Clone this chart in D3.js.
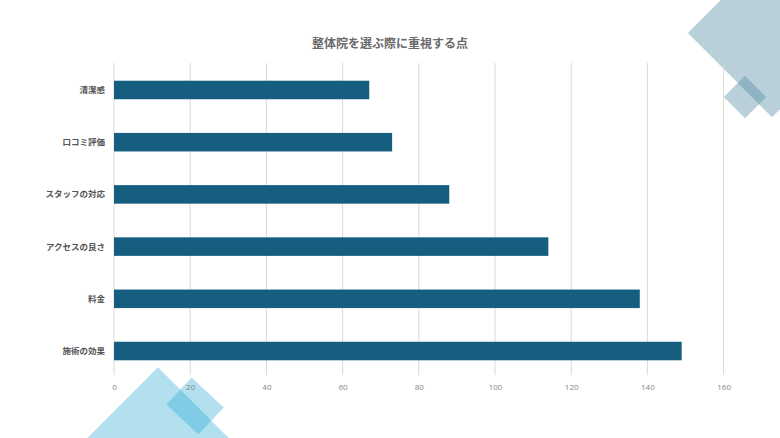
<!DOCTYPE html>
<html>
<head>
<meta charset="utf-8">
<script src="https://cdn.jsdelivr.net/npm/d3@7"></script>
<style>
html,body{margin:0;padding:0;background:#fff;}
svg{display:block;}
</style>
</head>
<body>
<svg id="chart" width="780" height="438"></svg>
<script>
const categories = ["清潔感","口コミ評価","スタッフの対応","アクセスの良さ","料金","施術の効果"];
const values = [67, 73, 88, 114, 138, 149];
const xTicks = [0,20,40,60,80,100,120,140,160];
const title = "整体院を選ぶ際に重視する点";

const W = 780, H = 438;
const svg = d3.select("#chart");

// decorations (behind chart)
const deco = svg.append("g");
function rotRect(cx, cy, w, h, ang, fill, op){
  deco.append("rect")
    .attr("x", -w/2).attr("y", -h/2).attr("width", w).attr("height", h)
    .attr("transform", `translate(${cx},${cy}) rotate(${ang})`)
    .attr("fill", fill).attr("fill-opacity", op);
}
rotRect(772, 33, 119, 119, 45, "#508aa2", 0.4);
rotRect(745, 97, 30, 30, 45, "#508aa2", 0.4);
rotRect(158, 460, 131, 131, 45, "#29a8d2", 0.36);
rotRect(195, 406, 44, 37, 43, "#29a8d2", 0.36);

const x = d3.scaleLinear().domain([0,160]).range([114, 723.6]);
const y = d3.scaleBand().domain(categories).range([64, 377]).paddingInner(0.645).paddingOuter(0.32);

// gridlines
svg.append("g").selectAll("line").data(xTicks).join("line")
  .attr("x1", d => x(d)).attr("x2", d => x(d))
  .attr("y1", 63).attr("y2", 375)
  .attr("stroke", "#d9d9d9").attr("stroke-width", 1);

// bars
svg.append("g").selectAll("rect").data(values).join("rect")
  .attr("x", x(0))
  .attr("y", (d,i) => y(categories[i]))
  .attr("width", d => x(d) - x(0))
  .attr("height", y.bandwidth())
  .attr("fill", "#155e7f");

// x axis labels
const xa = svg.append("g").attr("transform", "translate(0,375)")
  .call(d3.axisBottom(x).tickValues(xTicks).tickSize(0).tickPadding(9).tickFormat(d3.format("d")));
xa.select(".domain").remove();
xa.selectAll("text").attr("fill", "#888").attr("font-size", 8)
  .attr("font-family", "'Open Sans','Noto Sans CJK JP',sans-serif");

// y labels
svg.append("g").selectAll("text").data(categories).join("text")
  .attr("x", 105)
  .attr("y", d => y(d) + y.bandwidth()/2)
  .attr("dy", "0.35em")
  .attr("text-anchor", "end")
  .attr("font-family", "'Noto Sans CJK JP',sans-serif")
  .attr("font-weight", "bold")
  .attr("font-size", 8.5)
  .attr("fill", "#555")
  .text(d => d);

// title
svg.append("text")
  .attr("x", 390).attr("y", 48)
  .attr("text-anchor", "middle")
  .attr("font-family", "'Noto Sans CJK JP',sans-serif")
  .attr("font-weight", "bold")
  .attr("font-size", 12)
  .attr("fill", "#6a6a6a")
  .text(title);
</script>
</body>
</html>
